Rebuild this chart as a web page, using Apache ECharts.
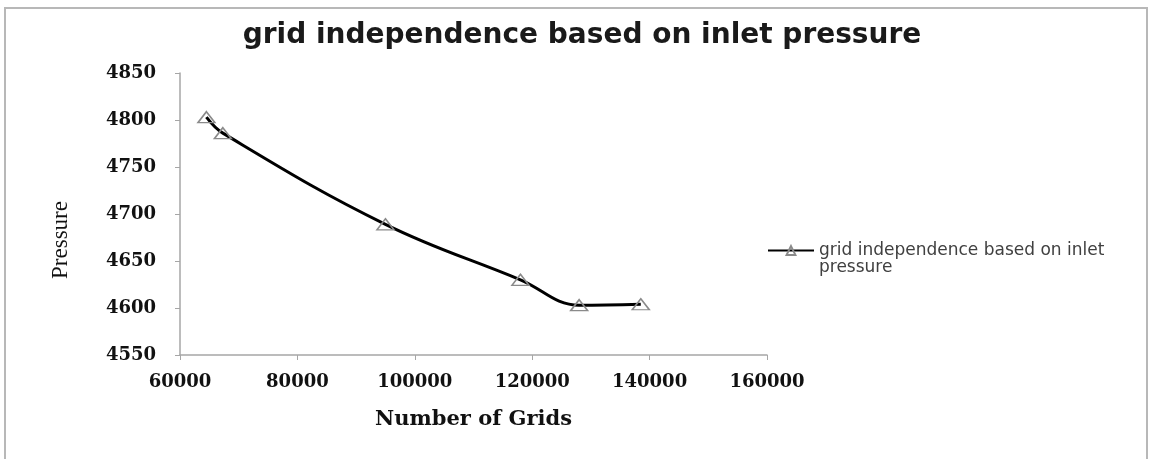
<!DOCTYPE html>
<html>
<head>
<meta charset="utf-8">
<script src="https://cdn.jsdelivr.net/npm/echarts@6/dist/echarts.min.js"></script>
<style>
html,body{margin:0;padding:0;background:#fff;}
#chart{width:1150px;height:459px;}
</style>
</head>
<body>
<div id="chart"></div>
<script>
const chartTitle = 'grid independence based on inlet pressure';
const seriesName = 'grid independence based on inlet pressure';
const gridCounts = [64500, 67300, 95000, 118000, 128000, 138500];
const pressures = [4803, 4786, 4689, 4630, 4603, 4604];
const xAxisTitle = 'Number of Grids';
const yAxisTitle = 'Pressure';

const chart = echarts.init(document.getElementById('chart'), null, {renderer: 'canvas'});
const data = gridCounts.map((x, i) => [x, pressures[i]]);

chart.setOption({
  backgroundColor: '#ffffff',
  animation: false,
  graphic: [{
    type: 'rect',
    shape: {x: 5, y: 8, width: 1142, height: 480},
    style: {fill: 'none', stroke: '#b8b8b8', lineWidth: 2},
    silent: true,
    z: -1
  }],
  title: {
    text: chartTitle,
    left: 582,
    top: 22,
    textAlign: 'center',
    padding: 0,
    textStyle: {fontFamily: 'DejaVu Sans', fontWeight: 'bold', fontSize: 28, color: '#1a1a1a'}
  },
  legend: {
    left: 767,
    top: 225,
    padding: 0,
    itemWidth: 46,
    itemHeight: 11,
    itemGap: 5,
    formatter: name => '\n' + name.replace(/ (\S+)$/, '\n$1'),
    textStyle: {fontFamily: 'DejaVu Sans', fontSize: 17, lineHeight: 17, color: '#404040'}
  },
  grid: {left: 180, right: 383, top: 73, bottom: 104},
  xAxis: {
    type: 'value',
    min: 60000, max: 160000, interval: 20000,
    name: xAxisTitle,
    nameLocation: 'middle',
    nameGap: 54,
    nameTextStyle: {fontFamily: 'DejaVu Serif', fontWeight: 'bold', fontSize: 21, color: '#111'},
    axisLine: {show: true, lineStyle: {color: '#a6a6a6', width: 1.5}},
    axisTick: {show: true, length: 5, lineStyle: {color: '#a6a6a6'}},
    splitLine: {show: false},
    axisLabel: {margin: 18, formatter: v => String(v), fontFamily: 'DejaVu Serif', fontWeight: 'bold', fontSize: 18, color: '#111'}
  },
  yAxis: {
    type: 'value',
    min: 4550, max: 4850, interval: 50,
    name: yAxisTitle,
    nameLocation: 'middle',
    nameRotate: 90,
    nameGap: 108,
    nameTextStyle: {fontFamily: 'Liberation Serif', fontSize: 23, color: '#111', padding: [0, 52, 0, 0]},
    axisLine: {show: true, lineStyle: {color: '#a6a6a6', width: 1.5}},
    axisTick: {show: true, length: 5, lineStyle: {color: '#a6a6a6'}},
    splitLine: {show: false},
    axisLabel: {margin: 24, formatter: v => String(v), fontFamily: 'DejaVu Serif', fontWeight: 'bold', fontSize: 18, color: '#111'}
  },
  series: [{
    name: seriesName,
    type: 'line',
    data: data,
    smooth: 0.4,
    symbol: 'triangle',
    symbolSize: [17, 11],
    showSymbol: true,
    lineStyle: {color: '#000', width: 3},
    itemStyle: {color: 'rgba(255,255,255,0)', borderColor: '#8a8a8a', borderWidth: 1.5},
    z: 2
  }]
});
</script>
</body>
</html>
